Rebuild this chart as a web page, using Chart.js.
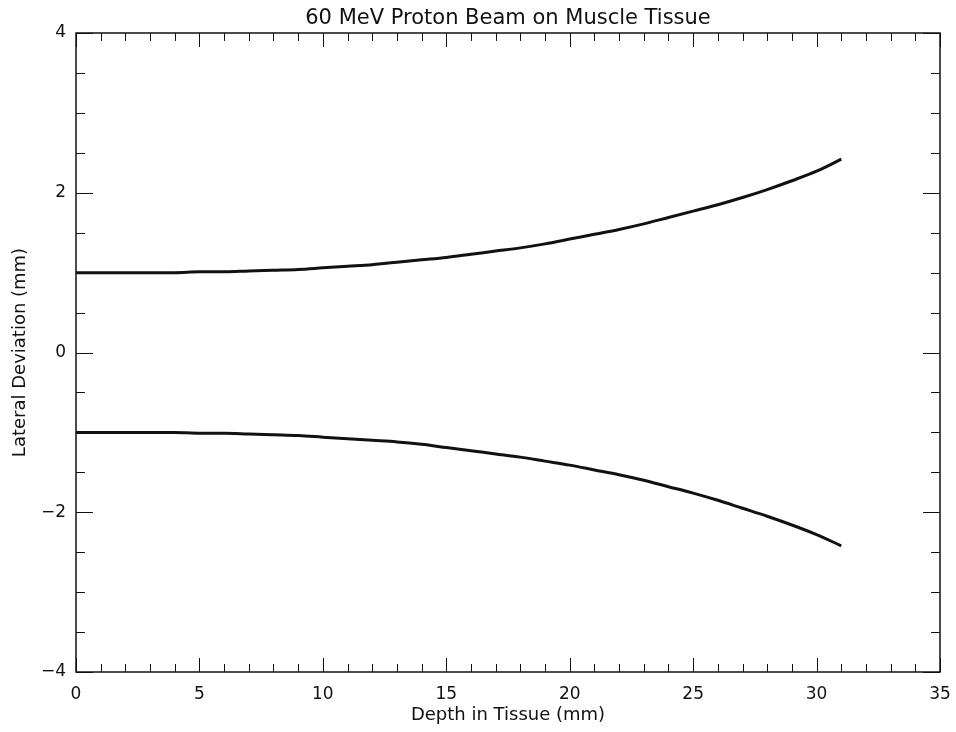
<!DOCTYPE html>
<html lang="en">
<head>
  <meta charset="UTF-8" />
  <title>60 MeV Proton Beam on Muscle Tissue</title>
  <script src="https://cdn.jsdelivr.net/npm/chart.js"></script>
  <style>
    html, body { margin: 0; padding: 0; background: #fff; }
    #wrap { width: 956px; height: 732px; }
  </style>
</head>
<body>
  <div id="wrap"><canvas id="beam" width="956" height="732"></canvas></div>

  <script>
    // depth in tissue (mm) and beam edges (mm)
    const depth = [0, 1, 2, 3, 4, 5, 6, 7, 8, 9, 10, 11, 12, 13, 14, 15,
      16, 17, 18, 19, 20, 21, 22, 23, 24, 25, 26, 27, 28, 29, 30, 31];
    const upperEdge = [1.00, 1.00, 1.00, 1.00, 1.00, 1.01, 1.01, 1.02, 1.03, 1.04, 1.06, 1.08,
      1.10, 1.13, 1.16, 1.19, 1.23, 1.27, 1.31, 1.36, 1.42, 1.48, 1.54, 1.61, 1.69, 1.77,
      1.85, 1.94, 2.04, 2.15, 2.27, 2.42];
    const lowerEdge = [-1.00, -1.00, -1.00, -1.00, -1.00, -1.01, -1.01, -1.02, -1.03, -1.04, -1.06, -1.08,
      -1.10, -1.12, -1.15, -1.19, -1.23, -1.27, -1.31, -1.36, -1.41, -1.47, -1.53, -1.60, -1.68, -1.76,
      -1.85, -1.95, -2.05, -2.16, -2.28, -2.42];
    const xTicks = [0, 5, 10, 15, 20, 25, 30, 35];
    const yTicks = [-4, -2, 0, 2, 4];

    const ink = '#111';
    const labelFont = { family: 'DejaVu Sans', size: 17 };
    const titleFont = { family: 'DejaVu Sans', size: 18 };

    function edgePoints(ys) {
      return depth.map((d, i) => ({ x: d, y: ys[i] }));
    }

    // IDL style frame: box on four sides with ticks pointing inward
    const frameTicks = {
      id: 'frameTicks',
      afterDraw(chart) {
        const { ctx, chartArea: a, scales: { x, y } } = chart;
        ctx.save();
        ctx.strokeStyle = ink;
        ctx.lineWidth = 1;
        ctx.beginPath();
        for (let v = xTicks[0]; v <= xTicks[xTicks.length - 1]; v += 1) {
          const px = Math.round(x.getPixelForValue(v)) + 0.5;
          const len = xTicks.includes(v) ? 14 : 8;
          ctx.moveTo(px, a.bottom); ctx.lineTo(px, a.bottom - len);
          ctx.moveTo(px, a.top); ctx.lineTo(px, a.top + len);
        }
        for (let v = yTicks[0]; v <= yTicks[yTicks.length - 1]; v += 0.5) {
          const py = Math.round(y.getPixelForValue(v)) + 0.5;
          const len = yTicks.includes(v) ? 17 : 9;
          ctx.moveTo(a.left, py); ctx.lineTo(a.left + len, py);
          ctx.moveTo(a.right, py); ctx.lineTo(a.right - len, py);
        }
        ctx.stroke();
        ctx.lineWidth = 1.5;
        ctx.strokeRect(a.left, a.top, a.right - a.left, a.bottom - a.top);

        ctx.fillStyle = ink;
        ctx.font = '21px "DejaVu Sans"';
        ctx.textAlign = 'center';
        ctx.textBaseline = 'middle';
        ctx.fillText('60 MeV Proton Beam on Muscle Tissue', (a.left + a.right) / 2, 19);
        ctx.restore();
      }
    };

    new Chart(document.getElementById('beam'), {
      type: 'scatter',
      data: {
        datasets: [
          { label: 'upper', data: edgePoints(upperEdge) },
          { label: 'lower', data: edgePoints(lowerEdge) }
        ]
      },
      options: {
        responsive: false,
        animation: false,
        showLine: true,
        layout: { padding: { top: 33, right: 16, left: 0, bottom: 0 } },
        elements: {
          point: { radius: 0 },
          line: { borderColor: ink, borderWidth: 3, cubicInterpolationMode: 'monotone' }
        },
        plugins: {
          legend: { display: false },
          tooltip: { enabled: false }
        },
        scales: {
          x: {
            type: 'linear',
            min: 0,
            max: 35,
            afterFit: s => { s.height = 60; s.paddingLeft = 0; s.paddingRight = 0; },
            afterBuildTicks: s => { s.ticks = xTicks.map(v => ({ value: v })); },
            grid: { display: false, drawTicks: false },
            border: { display: false },
            ticks: { color: ink, font: labelFont, padding: 12, maxRotation: 0 },
            title: { display: true, text: 'Depth in Tissue (mm)', color: ink, font: titleFont, padding: { top: 0, bottom: 6 } }
          },
          y: {
            type: 'linear',
            min: -4,
            max: 4,
            afterFit: s => { s.width = 76; s.paddingTop = 0; s.paddingBottom = 0; },
            afterBuildTicks: s => { s.ticks = yTicks.map(v => ({ value: v })); },
            grid: { display: false, drawTicks: false },
            border: { display: false },
            ticks: {
              color: ink, font: labelFont, padding: 10,
              callback: v => (v < 0 ? '\u2212' + Math.abs(v) : String(v))
            },
            title: { display: true, text: 'Lateral Deviation (mm)', color: ink, font: titleFont, padding: { top: 10, bottom: 0 } }
          }
        }
      },
      plugins: [frameTicks]
    });
  </script>
</body>
</html>
